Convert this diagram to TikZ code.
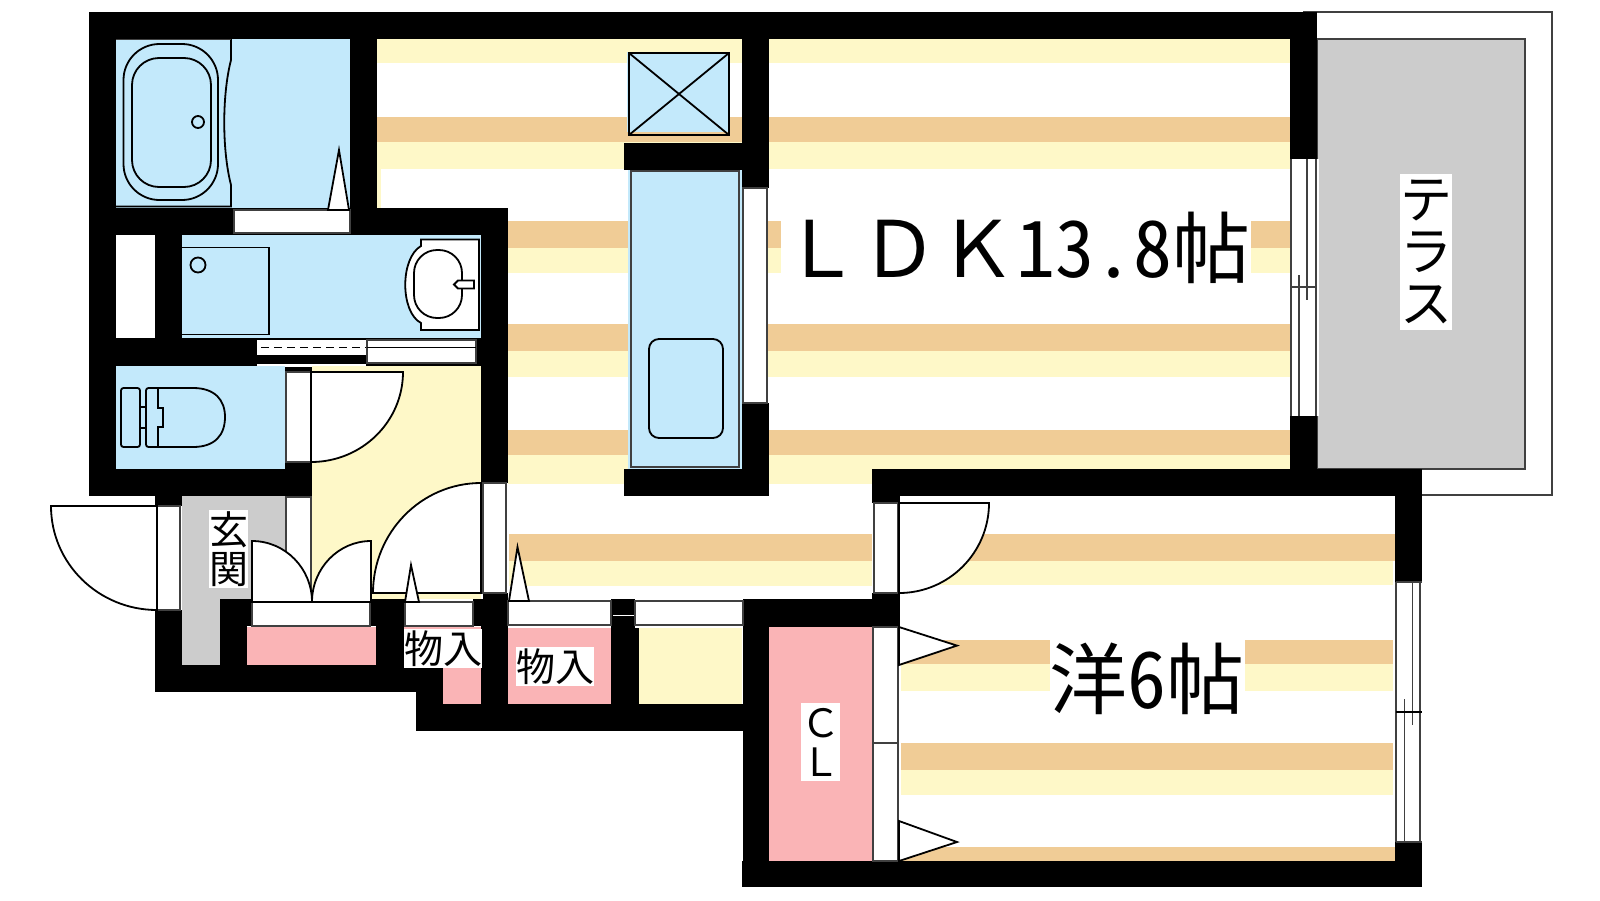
\documentclass[tikz,border=0pt]{standalone}
\usepackage{fontspec}
\usetikzlibrary{calc}
\newfontfamily\jpf[RawFeature={+hwid}]{Noto Sans CJK JP}
\newfontfamily\jpn{Noto Sans CJK JP}
\definecolor{cyel}{HTML}{FEF8C8}
\definecolor{ctan}{HTML}{F0CC96}
\definecolor{cblu}{HTML}{C3E9FB}
\definecolor{cpnk}{HTML}{FAB4B6}
\definecolor{cgry}{HTML}{CCCCCC}
\definecolor{cedg}{HTML}{404040}
\newcommand{\bx}[5]{\fill[#1] (#2,#3) rectangle (#4,#5);}
\newcommand{\wbx}[4]{\filldraw[wline] (#1,#2) rectangle (#3,#4);}
\newcommand{\leaf}[4]{\filldraw[fix,fill=white] (#1) -- (#2) .. controls ($(#2)!0.5523!(#3)$) and ($(#4)!0.5523!(#3)$) .. (#4) -- cycle;}
\tikzset{
  fix/.style={draw=black,line width=1.8pt,line join=miter},
  wline/.style={draw=cedg,line width=1.6pt,fill=white},
  lab/.style={fill=white,inner sep=0pt,align=center,text=black},
  big/.style={font=\fontsize{78pt}{78pt}\selectfont\jpn},
  mid/.style={font=\fontsize{52pt}{52pt}\selectfont\jpn},
  sml/.style={font=\fontsize{39pt}{39pt}\selectfont\jpn},
}
\begin{document}
\begin{tikzpicture}[x=1pt,y=-1pt]
\useasboundingbox (0,0) rectangle (1600,900);
\fill[white] (0,0) rectangle (1600,900);
% ---- stripes LDK
\foreach \xa/\xb in {377/742,769/1290}{
  \bx{cyel}{\xa}{39}{\xb}{63}
  \bx{ctan}{\xa}{117}{\xb}{142}
  \bx{cyel}{\xa}{142}{\xb}{169}
}
\bx{cyel}{377}{169}{381}{208}
\foreach \ya/\yb/\yc in {221/248/273,324/351/377,430/455/484}{
  \bx{ctan}{508}{\ya}{1290}{\yb}
  \bx{cyel}{508}{\yb}{1290}{\yc}
}
\bx{ctan}{509}{534}{872}{561}
\bx{cyel}{509}{561}{872}{586}
% ---- stripes bedroom
\bx{ctan}{901}{534}{1395}{561}
\bx{cyel}{901}{561}{1393}{585}
\bx{ctan}{901}{640}{1393}{664}
\bx{cyel}{901}{664}{1393}{691}
\bx{ctan}{901}{743}{1393}{770}
\bx{cyel}{901}{770}{1393}{795}
\bx{ctan}{901}{847}{1395}{861}
% ---- floors
\bx{cblu}{116}{39}{350}{208}
\bx{white}{116}{235}{155}{338}
\bx{cblu}{182}{235}{481}{338}
\bx{cblu}{116}{366}{285}{469}
\bx{cyel}{312}{366}{481}{599}
\bx{cgry}{182}{496}{285}{599}
\bx{cgry}{182}{599}{220}{665}
\bx{cpnk}{247}{627}{376}{665}
\bx{cpnk}{404}{627}{481}{665}
\bx{cpnk}{443}{665}{481}{704}
\bx{cpnk}{508}{628}{611}{704}
\bx{cyel}{639}{628}{742}{704}
\bx{cpnk}{769}{627}{872}{861}
\bx{cblu}{628}{170}{742}{469}
\bx{cblu}{627}{52}{730}{132}
% ---- terrace
\filldraw[draw=cedg,line width=1.6pt,fill=cgry] (1317,39) rectangle (1525,469);
\draw[cedg,line width=1.4pt] (1303,12) -- (1552,12) -- (1552,495) -- (1422,495);
% ---- walls
\bx{black}{89}{12}{1317}{39}
\bx{black}{89}{12}{116}{496}
\bx{black}{350}{12}{377}{208}
\bx{black}{89}{208}{508}{235}
\bx{black}{155}{235}{182}{338}
\bx{black}{89}{338}{481}{366}
\bx{black}{476}{338}{508}{366}
\bx{black}{89}{469}{312}{496}
\bx{black}{285}{367}{312}{372}
\bx{black}{285}{462}{312}{497}
\bx{black}{481}{208}{508}{483}
\bx{black}{742}{12}{769}{188}
\bx{black}{742}{403}{769}{496}
\bx{black}{624}{143}{769}{170}
\bx{black}{624}{469}{769}{496}
\bx{black}{1290}{12}{1317}{159}
\bx{black}{1290}{416}{1317}{496}
\bx{black}{872}{469}{1422}{496}
\bx{black}{872}{469}{900}{503}
\bx{black}{1395}{469}{1422}{582}
\bx{black}{1395}{842}{1422}{887}
\bx{black}{742}{861}{1422}{887}
\bx{black}{743}{599}{769}{887}
\bx{black}{743}{599}{900}{627}
\bx{black}{872}{593}{900}{627}
\bx{black}{155}{496}{182}{506}
\bx{black}{155}{610}{182}{692}
\bx{black}{155}{665}{443}{692}
\bx{black}{220}{599}{252}{626}
\bx{black}{220}{626}{247}{665}
\bx{black}{370}{599}{405}{626}
\bx{black}{376}{626}{404}{665}
\bx{black}{416}{665}{443}{731}
\bx{black}{416}{704}{769}{731}
\bx{black}{473}{599}{508}{626}
\bx{black}{483}{593}{508}{599}
\bx{black}{481}{626}{508}{704}
\bx{black}{611}{599}{635}{628}
\bx{black}{611}{628}{639}{704}
\draw[white,line width=1pt] (613,615) -- (634,615);
% ---- white door and window strips
\wbx{234}{210}{350}{233}
\wbx{286}{372}{311}{462}
\wbx{286}{497}{311}{602}
\wbx{157}{506}{180}{610}
\wbx{483}{483}{506}{593}
\wbx{252}{602}{370}{626}
\wbx{405}{602}{473}{626}
\wbx{508}{601}{611}{625}
\wbx{635}{601}{743}{625}
\wbx{874}{503}{898}{593}
\wbx{873}{627}{898}{743}
\wbx{873}{743}{898}{861}
\wbx{743}{188}{767}{403}
% sliding door, washroom
\bx{white}{257}{340}{366}{355}
\bx{white}{257}{364}{366}{366}
\wbx{367}{340}{476}{363}
\draw[black,line width=1.8pt] (367,347.5) -- (476,347.5);
\draw[black,line width=1.8pt,dash pattern=on 8pt off 5pt] (261,347.5) -- (366,347.5);
% window LDK
\bx{white}{1291}{159}{1319}{416}
\draw[cedg,line width=1.5pt] (1291,159) -- (1291,416);
\draw[cedg,line width=1.5pt] (1299,275) -- (1299,416);
\draw[cedg,line width=1.5pt] (1307,159) -- (1307,300);
\draw[cedg,line width=1.5pt] (1316,159) -- (1316,416);
\draw[cedg,line width=1.5pt] (1291,287) -- (1316,287);
% window bedroom
\bx{white}{1396}{582}{1422}{842}
\draw[cedg,line width=1.5pt] (1396,582) -- (1422,582);
\draw[cedg,line width=1.5pt] (1396,842) -- (1422,842);
\draw[cedg,line width=1.5pt] (1396,582) -- (1396,842);
\draw[cedg,line width=1.5pt] (1404.5,699) -- (1404.5,842);
\draw[cedg,line width=1.5pt] (1412.5,582) -- (1412.5,725);
\draw[cedg,line width=1.5pt] (1420,582) -- (1420,842);
\draw[black,line width=1.5pt] (1396,712) -- (1422,712);
% ---- door leaves
\leaf{311,372}{403,372}{403,462}{311,462}
\leaf{481,593}{373,593}{373,483}{481,483}
\leaf{252,602}{252,541}{312,541}{312,602}
\leaf{371,602}{371,541}{312,541}{312,602}
\leaf{157,506}{51,506}{51,610}{157,610}
\leaf{899,503}{989,503}{989,593}{899,593}
% ---- door triangles
\filldraw[fix,fill=white] (328,210) -- (339,150) -- (349,210) -- cycle;
\filldraw[fix,fill=white] (405,602) -- (411,565) -- (419,602) -- cycle;
\filldraw[fix,fill=white] (509,601) -- (517.5,547) -- (529,601) -- cycle;
\filldraw[fix,fill=white] (899,627) -- (957,645.6) -- (899,665) -- cycle;
\filldraw[fix,fill=white] (899,821) -- (957,842) -- (899,861) -- cycle;
% ---- bath
\draw[fix] (116,206.5) -- (231,206.5) -- (231,185) .. controls (222,150) and (222,95) .. (231,60) -- (231,39);
\draw[cedg,line width=1pt] (116,39.5) -- (231,39.5);
\draw[fix,rounded corners=36pt] (123.5,44) rectangle (218,200);
\draw[fix,rounded corners=27pt] (132,58) rectangle (211,187);
\draw[fix] (198,122) circle (6);
% ---- washroom
\draw[fix] (182,247.5) -- (269,247.5) -- (269,334.5) -- (182,334.5);
\draw[fix] (198,265) circle (7.5);
\filldraw[fix,fill=white] (421,246) .. controls (400,258) and (400,312) .. (421,323) -- (421,330) -- (479,330) -- (479,239.5) -- (421,239.5) -- cycle;
\draw[fix,rounded corners=23pt] (414,250) rectangle (462,318);
\filldraw[fix,fill=white] (474,280.5) -- (458,280.5) -- (454,284.5) -- (458,288.5) -- (474,288.5) -- cycle;
% ---- toilet
\draw[fix,rounded corners=2.5pt] (121,388) rectangle (140,447);
\draw[fix] (140,407) rectangle (146,428);
\draw[fix,rounded corners=2.5pt] (158,388) -- (146,388) -- (146,447) -- (158,447);
\draw[fix] (158,388) -- (193,388) .. controls (215,388) and (225,400) .. (225,417) .. controls (225,435) and (215,447) .. (193,447) -- (158,447);
\draw[fix] (158,388) -- (158,408) -- (163,408) -- (163,427) -- (158,427) -- (158,447);
% ---- shaft
\draw[fix] (629,53) rectangle (729,135);
\draw[fix] (629,53) -- (729,135);
\draw[fix] (729,53) -- (629,135);
% ---- kitchen
\draw[draw=cedg,line width=2.2pt] (631,171) rectangle (739,467);
\draw[fix,rounded corners=10pt] (649,339) rectangle (723,438);
% ---- labels
\node[lab,big,minimum width=470pt,minimum height=78pt] (ldk) at (1016,248) {ＬＤＫ{\jpf 13.8}帖};
\node[lab,big,minimum width=194pt,minimum height=78pt] (yo) at (1147,679) {洋{\jpf 6}帖};
\node[lab,mid,minimum width=52pt,minimum height=156pt] (terr) at (1426,251.5) {テ\\ラ\\ス};
\node[lab,sml,minimum width=39pt,minimum height=78pt] (gen) at (228.5,549) {玄\\関};
\node[lab,sml,minimum width=78pt,minimum height=39pt] (mono1) at (443,648.5) {物入};
\node[lab,sml,minimum width=78pt,minimum height=39pt] (mono2) at (555,666.5) {物入};
\node[lab,sml,minimum width=39pt,minimum height=78pt] (cl) at (820.5,742) {Ｃ\\Ｌ};
\end{tikzpicture}
\end{document}
